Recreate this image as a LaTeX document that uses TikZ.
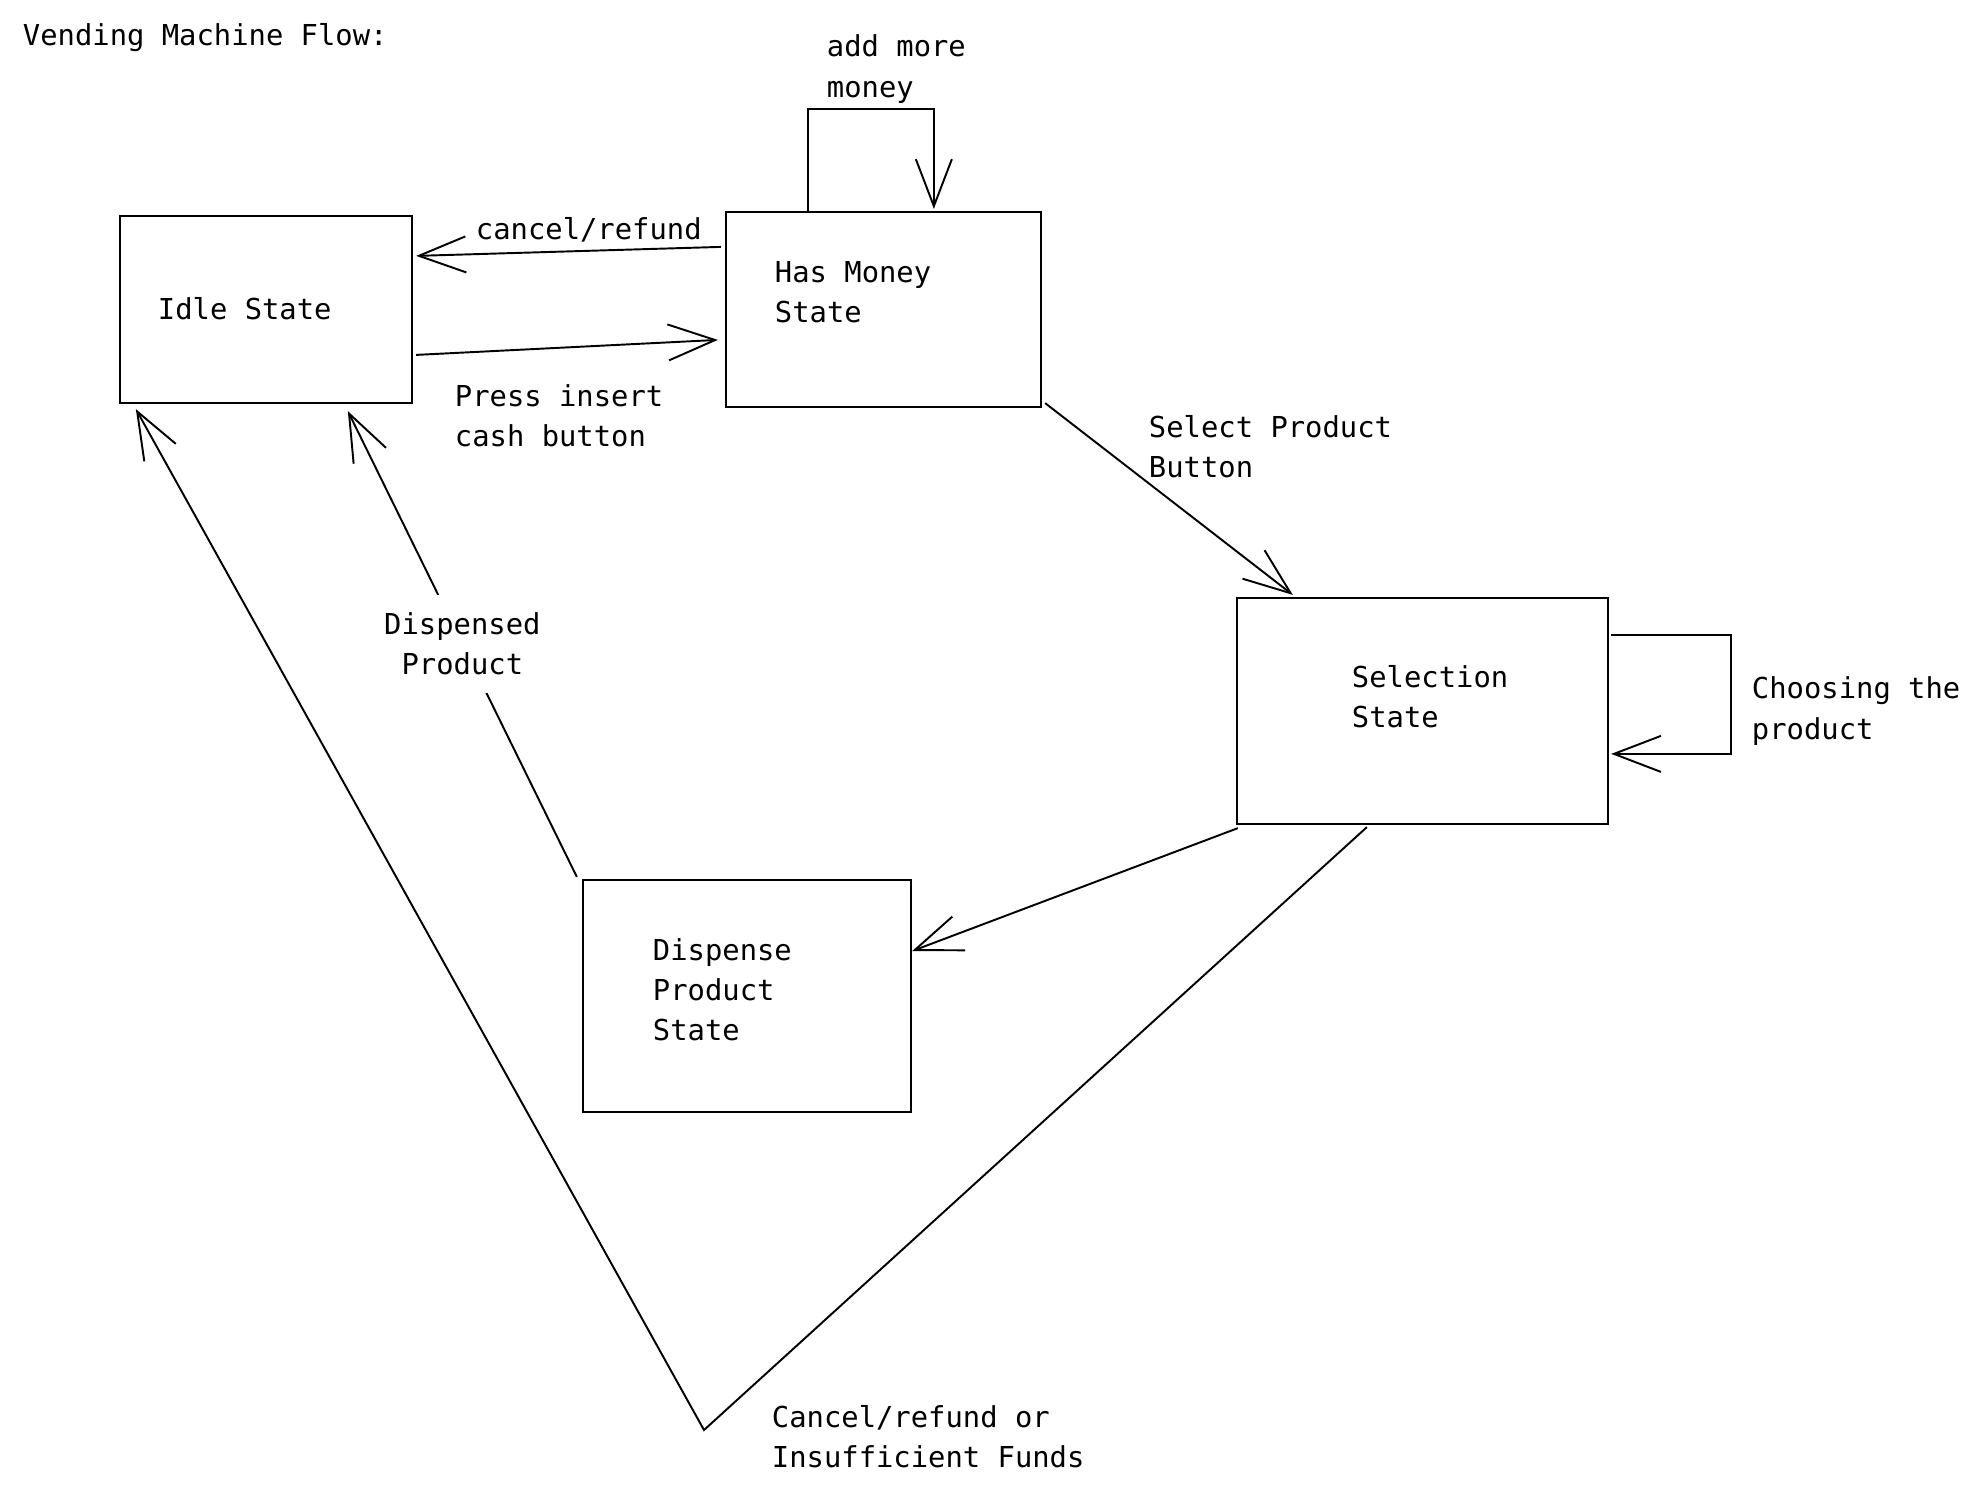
\documentclass[tikz,border=0pt]{standalone}
\usepackage{fontspec}
\usepackage{tikz}
\usetikzlibrary{arrows.meta, calc}
\newfontfamily\sketchfont{DejaVu Sans Mono}

\begin{document}
\begin{tikzpicture}
    [x=0.01cm, y=-0.01cm, line width=0.55pt,
     every node/.style={font=\sketchfont\fontsize{8.2pt}{11.4pt}\selectfont, align=left, inner sep=0pt},
     statebox/.style={draw, line width=0.6pt},
     >={Straight Barb[length=4.7mm, width=3.6mm]}]
    \useasboundingbox (0,0) rectangle (1982,1499);
    \node[anchor=west] (title) at (22,38) {Vending Machine Flow:};
    \node[statebox, minimum width=2.92cm, minimum height=1.87cm] (idle) at (266,309.5) {};
    \node[statebox, minimum width=3.15cm, minimum height=1.95cm] (money) at (883.5,309.5) {};
    \node[statebox, minimum width=3.71cm, minimum height=2.26cm] (select) at (1422.5,711) {};
    \node[statebox, minimum width=3.28cm, minimum height=2.32cm] (disp) at (747,996) {};
    \node[anchor=west] (idleT) at (157,309) {Idle State};
    \node[anchor=west] (moneyT) at (774,292) {Has Money\\State};
    \node[anchor=west] (selectT) at (1351,697) {Selection\\State};
    \node[anchor=west] (dispT) at (652,990) {Dispense\\Product\\State};
    \node[anchor=west] (addT) at (826,69) {add more\\money};
    \node[anchor=west] (cancelT) at (475,230) {cancel/refund};
    \node[anchor=west] (pressT) at (454,416) {Press insert\\cash button};
    \node[anchor=west] (selT) at (1148,447) {Select Product\\Button};
    \node[anchor=west] (chooseT) at (1751,711) {Choosing the\\product};
    \node[anchor=west] (failT) at (771,1437) {Cancel/refund or\\Insufficient Funds};
    \coordinate (bend) at (704,1430);
    \draw[->] ($(money.north west)+(-4,36)$) -- ($(idle.north east)+(3,41)$);
    \draw[->] ($(idle.north east)+(3,140)$) -- ($(money.north west)+(-7,129)$);
    \draw[->] ($(money.north west)+(83,0)$) -- ++(0,-102) -| ($(money.north west)+(209,-2)$);
    \draw[->] ($(money.south east)+(3,-5)$) -- ($(select.north west)+(57,-2)$);
    \draw[->] ($(select.north east)+(2,38)$) -- ++(120,0) |- ($(select.north east)+(2,157)$);
    \draw[->] ($(select.south west)+(2,3)$) -- ($(disp.east)+(0,-45)$);
    \draw[->] ($(disp.north west)+(-5,-2)$) -- node[fill=white, inner sep=5pt, align=center] (dispensedT) {Dispensed\\Product} ($(idle.south west)+(229,7)$);
    \draw[->] ($(select.south west)+(131,2)$) -- (bend) -- ($(idle.south west)+(17,5)$);
\end{tikzpicture}
\end{document}
